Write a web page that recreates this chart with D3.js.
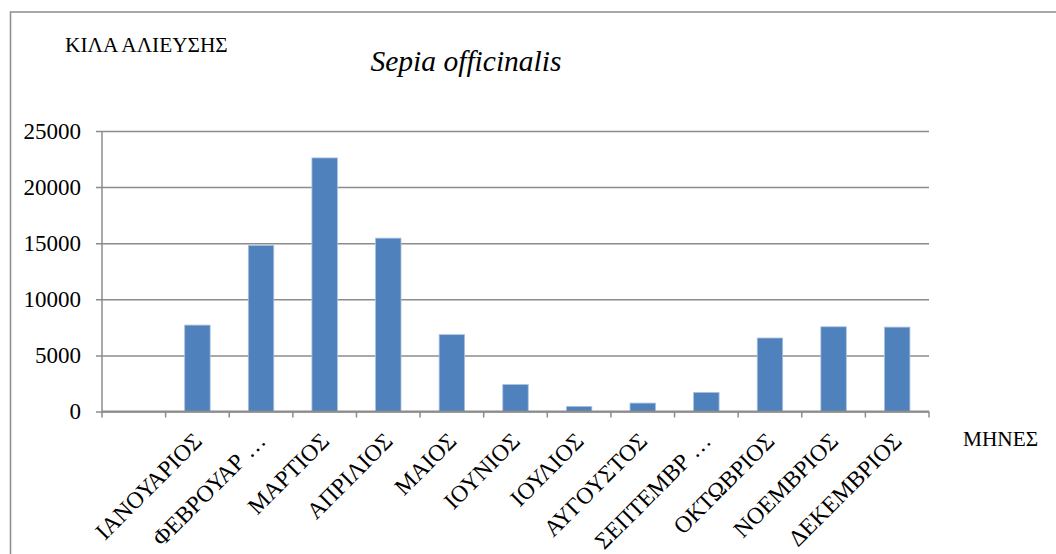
<!DOCTYPE html>
<html lang="el">
<head>
<meta charset="utf-8">
<title>Sepia officinalis</title>
<script src="https://d3js.org/d3.v7.min.js"></script>
<style>
  body { margin: 0; background: #fff; }
</style>
</head>
<body>
<div id="chart"></div>
<script>
// categories (first slot is an empty category in the source sheet)
var months = ["", "ΙΑΝΟΥΑΡΙΟΣ", "ΦΕΒΡΟΥΑΡ …", "ΜΑΡΤΙΟΣ", "ΑΠΡΙΛΙΟΣ", "ΜΑΙΟΣ", "ΙΟΥΝΙΟΣ",
              "ΙΟΥΛΙΟΣ", "ΑΥΓΟΥΣΤΟΣ", "ΣΕΠΤΕΜΒΡ …", "ΟΚΤΩΒΡΙΟΣ", "ΝΟΕΜΒΡΙΟΣ", "ΔΕΚΕΜΒΡΙΟΣ"];
// kg caught per month
var kilos = [null, 7700, 14800, 22600, 15450, 6850, 2400, 450, 750, 1700, 6550, 7550, 7520];
var yTicks = [0, 5000, 10000, 15000, 20000, 25000];

var W = 1056, H = 554;
var plot = {left: 102, right: 929, top: 131, bottom: 411.5};
var serif = "'Liberation Serif', 'Times New Roman', 'DejaVu Serif', serif";

var svg = d3.select("#chart").append("svg")
    .attr("width", W)
    .attr("height", H)
    .attr("font-family", serif);

// outer chart frame
svg.append("rect")
    .attr("x", 10.5).attr("y", 12)
    .attr("width", W + 20).attr("height", H + 20)
    .attr("fill", "none")
    .attr("stroke", "#8c8c8c")
    .attr("stroke-width", 1.5);

var x = d3.scaleBand()
    .domain(d3.range(months.length))
    .range([plot.left, plot.right])
    .paddingInner(0.6)
    .paddingOuter(0.3);

var y = d3.scaleLinear()
    .domain([0, 25000])
    .range([plot.bottom, plot.top]);

// gridlines + y labels
var yAxis = d3.axisLeft(y)
    .tickValues(yTicks)
    .tickSize(-(plot.right - plot.left) - 6)
    .tickPadding(14)
    .tickFormat(d3.format("d"));

var gy = svg.append("g")
    .attr("transform", "translate(" + (plot.left - 6) + ",0)")
    .call(yAxis)
    .attr("font-family", serif)
    .attr("font-size", 23);
gy.select(".domain").remove();
gy.selectAll(".tick line")
    .attr("x1", 0)
    .attr("x2", plot.right - plot.left + 6)
    .attr("stroke", "#8c8c8c")
    .attr("stroke-width", 1.5);
gy.selectAll(".tick text")
    .attr("x", 81 - (plot.left - 6))
    .attr("fill", "#000");

// vertical axis line
svg.append("line")
    .attr("x1", plot.left).attr("x2", plot.left)
    .attr("y1", y(25000)).attr("y2", y(0))
    .attr("stroke", "#8c8c8c").attr("stroke-width", 1.5);

// bars
svg.append("g").selectAll("rect")
    .data(kilos.map(function(v, i) { return {i: i, v: v}; }).filter(function(d) { return d.v != null; }))
    .enter().append("rect")
    .attr("x", function(d) { return x(d.i); })
    .attr("y", function(d) { return y(d.v); })
    .attr("width", x.bandwidth())
    .attr("height", function(d) { return y(0) - y(d.v); })
    .attr("fill", "#4f81bd")
    .attr("stroke", "#a9c0de")
    .attr("stroke-width", 0.8);

// x axis line with ticks at category boundaries
var step = x.step();
var bounds = d3.range(months.length + 1).map(function(i) { return plot.left + i * step; });
var gx = svg.append("g");
gx.append("line")
    .attr("x1", plot.left).attr("x2", plot.right)
    .attr("y1", plot.bottom).attr("y2", plot.bottom)
    .attr("stroke", "#8c8c8c").attr("stroke-width", 2);
gx.selectAll(".tk")
    .data(bounds)
    .enter().append("line")
    .attr("class", "tk")
    .attr("x1", function(d) { return d; }).attr("x2", function(d) { return d; })
    .attr("y1", plot.bottom).attr("y2", plot.bottom + 6)
    .attr("stroke", "#8c8c8c").attr("stroke-width", 1.5);

// rotated month labels
gx.selectAll(".lbl")
    .data(months)
    .enter().append("text")
    .attr("class", "lbl")
    .attr("text-anchor", "end")
    .attr("font-size", 23.5)
    .attr("transform", function(d, i) {
        var cx = x(i) + x.bandwidth() / 2 + 6;
        return "translate(" + cx + "," + (plot.bottom + 31) + ") rotate(-45)";
    })
    .text(function(d) { return d; });

// titles
svg.append("text")
    .attr("x", 466).attr("y", 71)
    .attr("text-anchor", "middle")
    .attr("font-size", 29.5)
    .attr("font-style", "italic")
    .text("Sepia officinalis");

svg.append("text")
    .attr("x", 65).attr("y", 52)
    .attr("font-size", 21.3)
    .text("ΚΙΛΑ ΑΛΙΕΥΣΗΣ");

svg.append("text")
    .attr("x", 963).attr("y", 446)
    .attr("font-size", 21.3)
    .text("ΜΗΝΕΣ");
</script>
</body>
</html>
